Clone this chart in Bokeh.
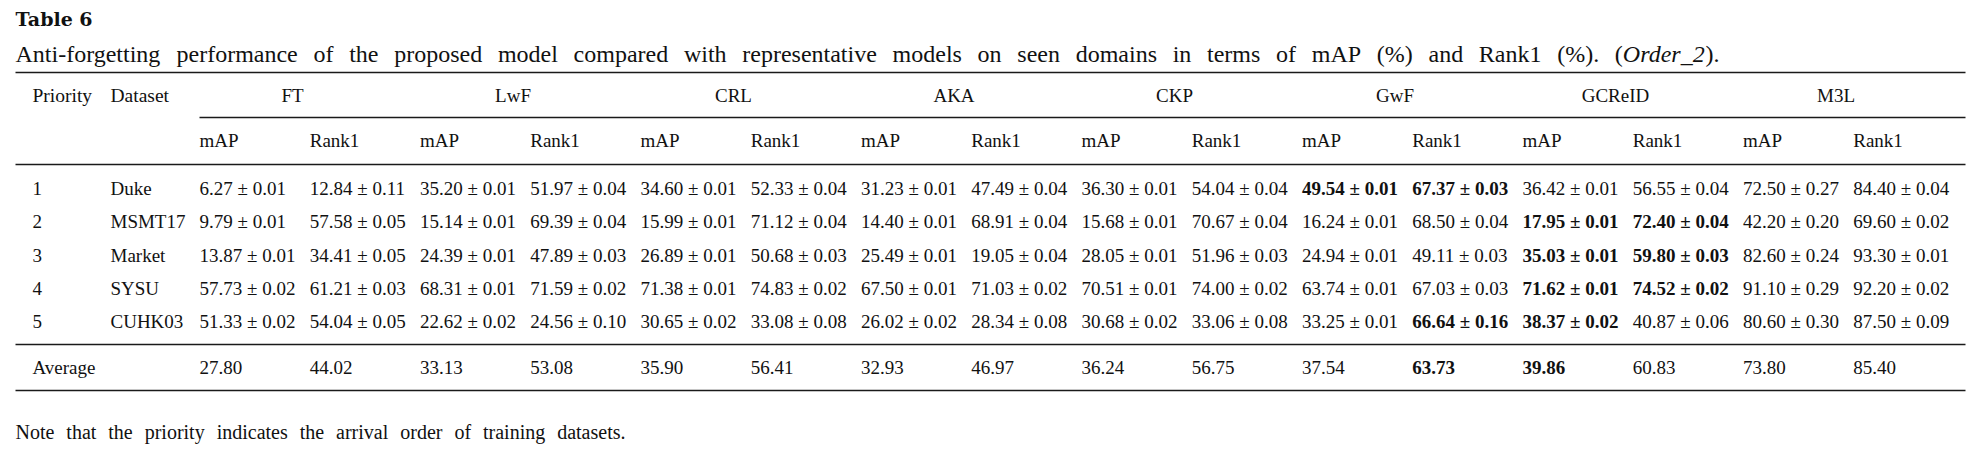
from bokeh.plotting import figure
from bokeh.models import Range1d, ColumnDataSource
from bokeh.embed import file_html
from bokeh.resources import INLINE
from bokeh.core.properties import value

# ---------------- data ----------------
title_text = "Table 6"
caption_text = ("Anti-forgetting performance of the proposed model compared with "
                "representative models on seen domains in terms of mAP (%) and Rank1 (%).")
caption_tail = ["(", "Order_2", ")."]          # "(Order_2)." with Order_2 in italics
note_text = "Note that the priority indicates the arrival order of training datasets."

priorities = ["1", "2", "3", "4", "5"]
datasets = ["Duke", "MSMT17", "Market", "SYSU", "CUHK03"]
models = ["FT", "LwF", "CRL", "AKA", "CKP", "GwF", "GCReID", "M3L"]
metrics = ["mAP", "Rank1"]

ft_map = [6.27, 9.79, 13.87, 57.73, 51.33]
ft_map_sd = [0.01, 0.01, 0.01, 0.02, 0.02]
ft_r1 = [12.84, 57.58, 34.41, 61.21, 54.04]
ft_r1_sd = [0.11, 0.05, 0.05, 0.03, 0.05]

lwf_map = [35.20, 15.14, 24.39, 68.31, 22.62]
lwf_map_sd = [0.01, 0.01, 0.01, 0.01, 0.02]
lwf_r1 = [51.97, 69.39, 47.89, 71.59, 24.56]
lwf_r1_sd = [0.04, 0.04, 0.03, 0.02, 0.10]

crl_map = [34.60, 15.99, 26.89, 71.38, 30.65]
crl_map_sd = [0.01, 0.01, 0.01, 0.01, 0.02]
crl_r1 = [52.33, 71.12, 50.68, 74.83, 33.08]
crl_r1_sd = [0.04, 0.04, 0.03, 0.02, 0.08]

aka_map = [31.23, 14.40, 25.49, 67.50, 26.02]
aka_map_sd = [0.01, 0.01, 0.01, 0.01, 0.02]
aka_r1 = [47.49, 68.91, 19.05, 71.03, 28.34]
aka_r1_sd = [0.04, 0.04, 0.04, 0.02, 0.08]

ckp_map = [36.30, 15.68, 28.05, 70.51, 30.68]
ckp_map_sd = [0.01, 0.01, 0.01, 0.01, 0.02]
ckp_r1 = [54.04, 70.67, 51.96, 74.00, 33.06]
ckp_r1_sd = [0.04, 0.04, 0.03, 0.02, 0.08]

gwf_map = [49.54, 16.24, 24.94, 63.74, 33.25]
gwf_map_sd = [0.01, 0.01, 0.01, 0.01, 0.01]
gwf_r1 = [67.37, 68.50, 49.11, 67.03, 66.64]
gwf_r1_sd = [0.03, 0.04, 0.03, 0.03, 0.16]

gcreid_map = [36.42, 17.95, 35.03, 71.62, 38.37]
gcreid_map_sd = [0.01, 0.01, 0.01, 0.01, 0.02]
gcreid_r1 = [56.55, 72.40, 59.80, 74.52, 40.87]
gcreid_r1_sd = [0.04, 0.04, 0.03, 0.02, 0.06]

m3l_map = [72.50, 42.20, 82.60, 91.10, 80.60]
m3l_map_sd = [0.27, 0.20, 0.24, 0.29, 0.30]
m3l_r1 = [84.40, 69.60, 93.30, 92.20, 87.50]
m3l_r1_sd = [0.04, 0.02, 0.01, 0.02, 0.09]

avg_map = [27.80, 33.13, 35.90, 32.93, 36.24, 37.54, 39.86, 73.80]
avg_rank1 = [44.02, 53.08, 56.41, 46.97, 56.75, 63.73, 60.83, 85.40]

bold_cells = [("GwF", "mAP", 0), ("GwF", "Rank1", 0), ("GwF", "Rank1", 4),
              ("GCReID", "mAP", 1), ("GCReID", "mAP", 2), ("GCReID", "mAP", 3),
              ("GCReID", "mAP", 4), ("GCReID", "Rank1", 1), ("GCReID", "Rank1", 2),
              ("GCReID", "Rank1", 3)]
bold_avg = [("GwF", "Rank1"), ("GCReID", "mAP")]

series = {
    "FT": (ft_map, ft_map_sd, ft_r1, ft_r1_sd),
    "LwF": (lwf_map, lwf_map_sd, lwf_r1, lwf_r1_sd),
    "CRL": (crl_map, crl_map_sd, crl_r1, crl_r1_sd),
    "AKA": (aka_map, aka_map_sd, aka_r1, aka_r1_sd),
    "CKP": (ckp_map, ckp_map_sd, ckp_r1, ckp_r1_sd),
    "GwF": (gwf_map, gwf_map_sd, gwf_r1, gwf_r1_sd),
    "GCReID": (gcreid_map, gcreid_map_sd, gcreid_r1, gcreid_r1_sd),
    "M3L": (m3l_map, m3l_map_sd, m3l_r1, m3l_r1_sd),
}

# Times / Liberation Serif advance widths (per 1000 em) for justified lines
ADV = {' ': 250, '(': 333, ')': 333, '%': 833, '-': 333, '.': 250, '_': 500, '1': 500, '2': 500,
       'A': 722, 'N': 722, 'O': 722, 'P': 556, 'R': 667, 'T': 611,
       'a': 444, 'b': 500, 'c': 444, 'd': 500, 'e': 444, 'f': 333, 'g': 500, 'h': 500,
       'i': 278, 'k': 500, 'l': 278, 'm': 778, 'n': 500, 'o': 500, 'p': 500, 'r': 333,
       's': 389, 't': 278, 'u': 500, 'v': 500, 'w': 722, 'y': 500}
ADV_IT = {'O': 722, 'r': 389, 'd': 500, 'e': 444, '_': 500, '2': 500}


def adv(s, size, table=ADV):
    return sum(table.get(c, 500) for c in s) * size / 1000.0


def by(y, size):
    # baseline position -> y handed to the text glyph
    return y - 0.46 * size


# ---------------- layout ----------------
W, H = 1984, 451
FONT = value("Liberation Serif")
INK = "#111111"

p = figure(width=W, height=H, x_range=Range1d(0, W), y_range=Range1d(H, 0),
           output_backend="svg", toolbar_location=None, min_border=0,
           x_axis_type=None, y_axis_type=None)
p.title.visible = False
p.xgrid.visible = False
p.ygrid.visible = False
p.outline_line_color = None
p.background_fill_color = "white"
p.border_fill_color = "white"

left_x, right_x = 15, 1965
col0, col_step = 199, 110.25
prio_x, ds_x = 32, 110
y_head1, y_head2 = 103.5, 149
row_y0, row_step = 196.5, 33.4
y_avg = 375.5
DS = 19  # body font size

# rules
rule_x0 = [left_x, col0, left_x, left_x, left_x]
rule_x1 = [right_x] * 5
rule_y = [72, 117, 164, 344, 390]
p.segment(x0=rule_x0, x1=rule_x1, y0=rule_y, y1=rule_y, line_color="#1a1a1a", line_width=1.7)

# title
p.text(x=[15], y=[by(27, 19)], text=[title_text], text_font=value("DejaVu Serif"),
       text_font_style="bold", text_font_size="19px", text_color=INK, text_baseline="alphabetic")


# justified line
def justify(words, x0, x1, size, tail=None):
    tail_w = 0.0
    if tail:
        tail_w = adv(tail[0], size) + adv(tail[1], size, ADV_IT) + adv(tail[2], size)
    total = sum(adv(w, size) for w in words) + tail_w
    ngaps = len(words) - 1 + (1 if tail else 0)
    gap = (x1 - x0 - total) / ngaps
    xs, x = [], x0
    for w in words:
        xs.append(x)
        x += adv(w, size) + gap
    return xs, x


cap_size = 24
cap_y = by(64.5, cap_size)
cap_words = caption_text.split(" ")
cap_x, tail_x = justify(cap_words, 15, 1719, cap_size, caption_tail)
p.text(x=cap_x, y=[cap_y] * len(cap_words), text=cap_words, text_font=FONT,
       text_font_size=f"{cap_size}px", text_color=INK, text_baseline="alphabetic")
t1 = tail_x + adv(caption_tail[0], cap_size)
t2 = t1 + adv(caption_tail[1], cap_size, ADV_IT)
p.text(x=[tail_x, t2], y=[cap_y, cap_y], text=[caption_tail[0], caption_tail[2]], text_font=FONT,
       text_font_size=f"{cap_size}px", text_color=INK, text_baseline="alphabetic")
p.text(x=[t1], y=[cap_y], text=[caption_tail[1]], text_font=FONT, text_font_style="italic",
       text_font_size=f"{cap_size}px", text_color=INK, text_baseline="alphabetic")

# justified note
note_size = 20
note_words = note_text.split(" ")
note_x, _ = justify(note_words, 15, 625, note_size)
p.text(x=note_x, y=[by(441, note_size)] * len(note_words), text=note_words, text_font=FONT,
       text_font_size=f"{note_size}px", text_color=INK, text_baseline="alphabetic")

# header
p.text(x=[prio_x, ds_x], y=[by(y_head1, 19.5)] * 2, text=["Priority", "Dataset"], text_font=FONT,
       text_font_size="19.5px", text_color=INK, text_baseline="alphabetic")
gx = [col0 + (2 * i) * col_step + 93 for i in range(len(models))]
p.text(x=gx, y=[by(y_head1, DS)] * len(models), text=models, text_font=FONT,
       text_font_size=f"{DS}px", text_color=INK, text_align="center", text_baseline="alphabetic")
mx = [col0 + j * col_step for j in range(2 * len(models))]
mt = [metrics[j % 2] for j in range(2 * len(models))]
p.text(x=mx, y=[by(y_head2, DS)] * len(mx), text=mt, text_font=FONT, text_font_size=f"{DS}px",
       text_color=INK, text_baseline="alphabetic")

# body
xs, ys, ts, fs = [], [], [], []
for r, (pr, ds) in enumerate(zip(priorities, datasets)):
    yy = by(row_y0 + r * row_step, DS)
    xs += [prio_x, ds_x]; ys += [yy, yy]; ts += [pr, ds]; fs += ["normal", "normal"]
    for i, m in enumerate(models):
        mp, mps, r1, r1s = series[m]
        for k, (v, s) in enumerate([(mp[r], mps[r]), (r1[r], r1s[r])]):
            xs.append(col0 + (2 * i + k) * col_step)
            ys.append(yy)
            ts.append(f"{v:.2f} \u00b1 {s:.2f}")
            fs.append("bold" if (m, metrics[k], r) in bold_cells else "normal")

ya = by(y_avg, DS)
xs.append(prio_x); ys.append(ya); ts.append("Average"); fs.append("normal")
for i, m in enumerate(models):
    for k, v in enumerate([avg_map[i], avg_rank1[i]]):
        xs.append(col0 + (2 * i + k) * col_step)
        ys.append(ya)
        ts.append(f"{v:.2f}")
        fs.append("bold" if (m, metrics[k]) in bold_avg else "normal")

src = ColumnDataSource(dict(x=xs, y=ys, text=ts, style=fs))
p.text(x="x", y="y", text="text", source=src, text_font=FONT, text_font_style="style",
       text_font_size=f"{DS}px", text_color=INK, text_baseline="alphabetic")

open("out.html", "w").write(file_html(p, INLINE))
